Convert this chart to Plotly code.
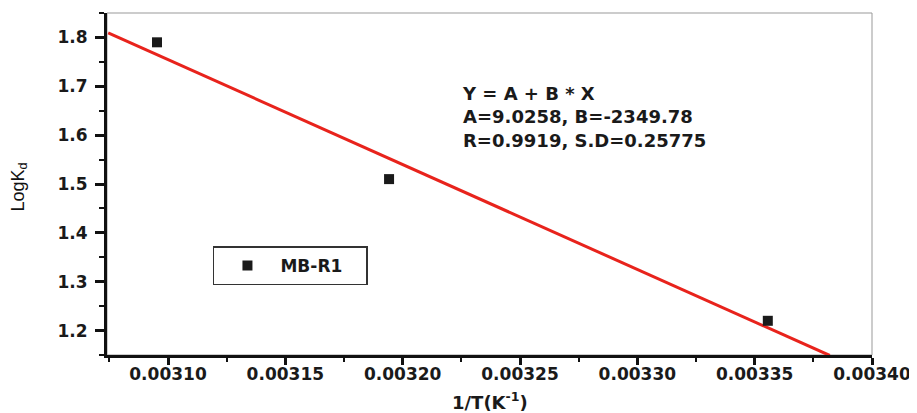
import plotly.graph_objects as go

# Data
inv_T = [0.0030953, 0.0031942, 0.0033556]
log_kd = [1.790, 1.510, 1.220]
series_name = "MB-R1"

# Fitted line as drawn (endpoints)
fit_x = [0.0030745, 0.003382]
fit_y = [1.8094, 1.149]

x_ticks = [0.00310, 0.00315, 0.00320, 0.00325, 0.00330, 0.00335, 0.00340]
y_ticks = [1.2, 1.3, 1.4, 1.5, 1.6, 1.7, 1.8]

fit_text = "Y = A + B * X<br>A=9.0258, B=-2349.78<br>R=0.9919, S.D=0.25775"

TICK = dict(family="DejaVu Sans", size=17, color="#1a1a1a", weight="bold")
ANN = dict(family="DejaVu Sans", size=18, color="#1a1a1a", weight="bold")

fig = go.Figure()
fig.add_trace(go.Scatter(
    x=fit_x, y=fit_y, mode="lines",
    line=dict(color="#e8231c", width=3), showlegend=False, hoverinfo="skip",
))
fig.add_trace(go.Scatter(
    x=inv_T, y=log_kd, mode="markers", name=series_name,
    marker=dict(symbol="square", size=10, color="#1a1a1a"),
    cliponaxis=False,
))

# page body has an 8px margin, so the figure is sized to fit the 917x413 window
fig.update_layout(
    width=909, height=405,
    margin=dict(l=99, r=45, t=5, b=58),
    paper_bgcolor="white", plot_bgcolor="white",
    showlegend=True,
    legend=dict(
        x=0.1385, y=0.3175, xanchor="left", yanchor="top",
        orientation="h", entrywidth=81,
        bordercolor="#333333", borderwidth=1.5, bgcolor="white",
        font=dict(family="DejaVu Sans", size=17, color="#1a1a1a", weight="bold"),
        itemwidth=56,
    ),
    shapes=[dict(type="rect", xref="paper", yref="paper", x0=0, x1=1, y0=0, y1=1,
                 line=dict(color="#999999", width=1), layer="below")],
    annotations=[
        dict(text=fit_text, xref="paper", yref="paper", x=0.462, y=0.80,
             xanchor="left", yanchor="top", align="left", showarrow=False,
             font=ANN),
        dict(text="1/T(K<sup>-1</sup>)", xref="paper", yref="paper", x=0.5, y=-0.134,
             xanchor="center", yanchor="middle", showarrow=False, font=ANN),
        dict(text="LogK<sub>d</sub>", xref="paper", yref="paper", x=-0.115, y=0.49,
             xanchor="center", yanchor="middle", showarrow=False, textangle=-90,
             font=dict(family="Liberation Sans", size=18, color="#111111")),
    ],
)

fig.update_xaxes(
    range=[0.003074, 0.0034], tickvals=x_ticks, tickformat=".5f",
    showgrid=False, zeroline=False,
    showline=True, linecolor="#111111", linewidth=3,
    ticks="outside", ticklen=7, tickwidth=3, tickcolor="#111111",
    tickfont=TICK, ticklabelstandoff=-5,
    minor=dict(dtick=0.000025, tick0=0.0031, ticks="outside", ticklen=4, tickwidth=2,
               tickcolor="#111111", showgrid=False),
)
fig.update_yaxes(
    range=[1.15, 1.85], tickvals=y_ticks, tickformat=".1f",
    showgrid=False, zeroline=False,
    showline=True, linecolor="#111111", linewidth=3,
    ticks="outside", ticklen=9, tickwidth=3, tickcolor="#111111",
    tickfont=TICK, ticklabelstandoff=4,
    minor=dict(dtick=0.05, tick0=1.15, ticks="outside", ticklen=5, tickwidth=2,
               tickcolor="#111111", showgrid=False),
)

fig.write_html("out.html")
